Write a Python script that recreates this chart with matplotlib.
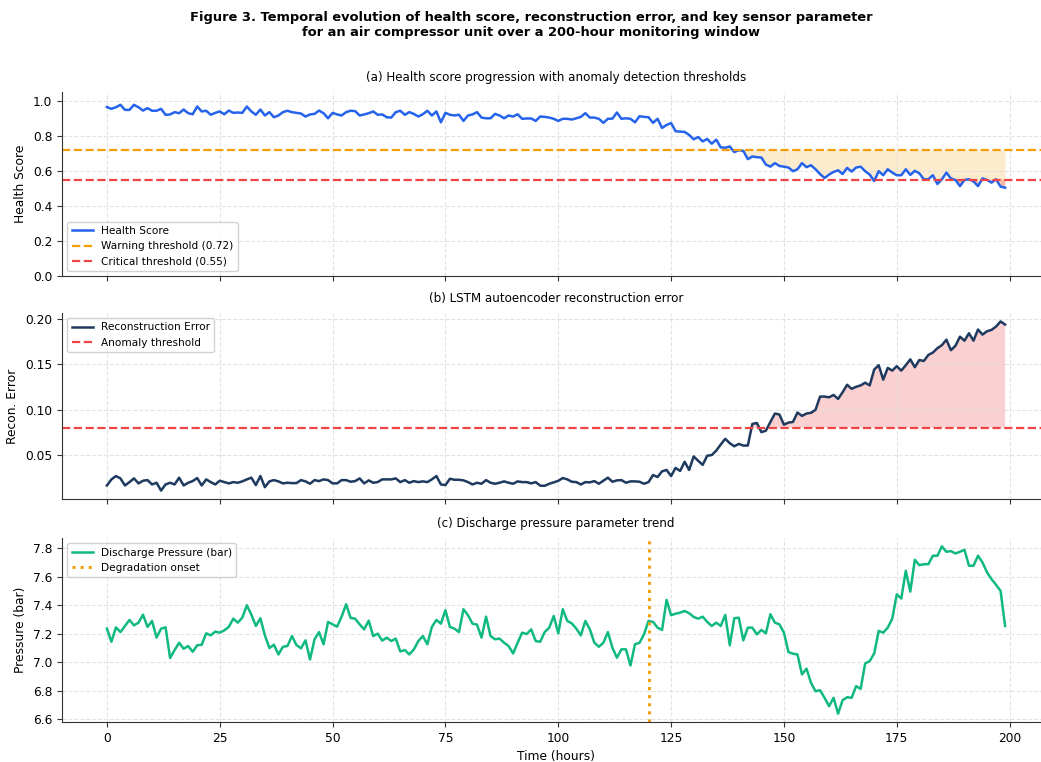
import numpy as np
import matplotlib
matplotlib.use("Agg")
import matplotlib.pyplot as plt

hours = np.arange(200)

health_score = [
    0.964, 0.954, 0.963, 0.977, 0.948, 0.948, 0.977, 0.963, 0.944, 0.958,
    0.943, 0.943, 0.954, 0.920, 0.922, 0.935, 0.929, 0.950, 0.929, 0.923,
    0.967, 0.939, 0.943, 0.920, 0.931, 0.939, 0.923, 0.944, 0.931, 0.933,
    0.931, 0.967, 0.939, 0.920, 0.950, 0.916, 0.935, 0.906, 0.916, 0.935,
    0.943, 0.935, 0.931, 0.927, 0.910, 0.922, 0.925, 0.944, 0.929, 0.900,
    0.931, 0.922, 0.916, 0.935, 0.943, 0.941, 0.916, 0.922, 0.929, 0.939,
    0.920, 0.922, 0.906, 0.904, 0.935, 0.943, 0.920, 0.935, 0.925, 0.910,
    0.923, 0.943, 0.916, 0.939, 0.877, 0.931, 0.920, 0.916, 0.920, 0.885,
    0.916, 0.922, 0.935, 0.904, 0.900, 0.900, 0.925, 0.916, 0.900, 0.916,
    0.910, 0.923, 0.897, 0.899, 0.899, 0.885, 0.910, 0.908, 0.904, 0.897,
    0.885, 0.897, 0.897, 0.893, 0.900, 0.908, 0.929, 0.904, 0.904, 0.897,
    0.874, 0.897, 0.898, 0.933, 0.897, 0.900, 0.897, 0.877, 0.912, 0.908,
    0.906, 0.874, 0.897, 0.845, 0.862, 0.873, 0.826, 0.824, 0.822, 0.805,
    0.780, 0.793, 0.768, 0.782, 0.755, 0.778, 0.734, 0.732, 0.739, 0.707,
    0.718, 0.714, 0.667, 0.682, 0.678, 0.676, 0.636, 0.624, 0.644, 0.628,
    0.624, 0.619, 0.598, 0.609, 0.644, 0.621, 0.632, 0.609, 0.582, 0.559,
    0.579, 0.594, 0.603, 0.582, 0.617, 0.596, 0.619, 0.624, 0.598, 0.579,
    0.542, 0.598, 0.575, 0.609, 0.590, 0.575, 0.575, 0.609, 0.577, 0.600,
    0.586, 0.552, 0.552, 0.575, 0.525, 0.552, 0.590, 0.556, 0.548, 0.513,
    0.548, 0.552, 0.540, 0.513, 0.557, 0.548, 0.533, 0.552, 0.510, 0.504,
]

recon_error = [
    0.0164, 0.0231, 0.0268, 0.0242, 0.0164, 0.0201, 0.0242, 0.0187, 0.0216, 0.0223,
    0.0175, 0.0194, 0.0108, 0.0175, 0.0194, 0.0175, 0.0250, 0.0164, 0.0194, 0.0212,
    0.0246, 0.0164, 0.0231, 0.0201, 0.0175, 0.0216, 0.0201, 0.0187, 0.0201, 0.0194,
    0.0209, 0.0231, 0.0250, 0.0168, 0.0268, 0.0145, 0.0209, 0.0223, 0.0209, 0.0187,
    0.0194, 0.0190, 0.0190, 0.0223, 0.0209, 0.0183, 0.0223, 0.0212, 0.0231, 0.0223,
    0.0187, 0.0187, 0.0223, 0.0223, 0.0205, 0.0212, 0.0242, 0.0187, 0.0220, 0.0194,
    0.0201, 0.0231, 0.0231, 0.0231, 0.0242, 0.0201, 0.0223, 0.0194, 0.0212, 0.0201,
    0.0209, 0.0201, 0.0231, 0.0268, 0.0175, 0.0168, 0.0238, 0.0227, 0.0227, 0.0220,
    0.0201, 0.0175, 0.0194, 0.0183, 0.0223, 0.0194, 0.0183, 0.0194, 0.0209, 0.0194,
    0.0183, 0.0209, 0.0201, 0.0201, 0.0187, 0.0201, 0.0162, 0.0160, 0.0183, 0.0198,
    0.0215, 0.0246, 0.0231, 0.0205, 0.0201, 0.0175, 0.0201, 0.0198, 0.0212, 0.0183,
    0.0216, 0.0250, 0.0205, 0.0220, 0.0223, 0.0194, 0.0209, 0.0209, 0.0205, 0.0183,
    0.0201, 0.0279, 0.0257, 0.0320, 0.0335, 0.0268, 0.0358, 0.0324, 0.0425, 0.0335,
    0.0484, 0.0436, 0.0391, 0.0492, 0.0499, 0.0548, 0.0615, 0.0678, 0.0630, 0.0596,
    0.0622, 0.0604, 0.0604, 0.0842, 0.0853, 0.0752, 0.0767, 0.0864, 0.0957, 0.0946,
    0.0834, 0.0857, 0.0864, 0.0968, 0.0931, 0.0957, 0.0965, 0.0998, 0.1144, 0.1144,
    0.1136, 0.1162, 0.1118, 0.1192, 0.1274, 0.1229, 0.1252, 0.1267, 0.1297, 0.1267,
    0.1442, 0.1490, 0.1330, 0.1460, 0.1430, 0.1479, 0.1430, 0.1490, 0.1554, 0.1468,
    0.1547, 0.1536, 0.1603, 0.1629, 0.1677, 0.1711, 0.1771, 0.1655, 0.1704, 0.1804,
    0.1760, 0.1842, 0.1760, 0.1883, 0.1827, 0.1864, 0.1879, 0.1916, 0.1972, 0.1938,
]

pressure = [
    7.235, 7.143, 7.244, 7.211, 7.254, 7.296, 7.258, 7.277, 7.333, 7.247,
    7.289, 7.172, 7.235, 7.244, 7.029, 7.085, 7.136, 7.094, 7.113, 7.073,
    7.118, 7.122, 7.202, 7.188, 7.214, 7.207, 7.223, 7.247, 7.305, 7.277,
    7.312, 7.399, 7.333, 7.254, 7.308, 7.188, 7.099, 7.122, 7.054, 7.108,
    7.113, 7.183, 7.120, 7.097, 7.153, 7.019, 7.160, 7.211, 7.125, 7.282,
    7.265, 7.249, 7.319, 7.406, 7.310, 7.305, 7.265, 7.230, 7.291, 7.183,
    7.200, 7.151, 7.172, 7.148, 7.165, 7.075, 7.085, 7.054, 7.089, 7.148,
    7.183, 7.125, 7.247, 7.296, 7.270, 7.364, 7.247, 7.235, 7.211, 7.371,
    7.329, 7.270, 7.263, 7.172, 7.319, 7.183, 7.160, 7.165, 7.136, 7.113,
    7.061, 7.136, 7.207, 7.197, 7.230, 7.148, 7.143, 7.211, 7.242, 7.324,
    7.202, 7.371, 7.289, 7.272, 7.235, 7.188, 7.289, 7.230, 7.136, 7.108,
    7.136, 7.211, 7.101, 7.031, 7.090, 7.090, 6.977, 7.125, 7.136, 7.195,
    7.289, 7.282, 7.242, 7.226, 7.437, 7.329, 7.340, 7.347, 7.359, 7.343,
    7.317, 7.305, 7.319, 7.282, 7.254, 7.277, 7.254, 7.331, 7.118, 7.308,
    7.312, 7.153, 7.242, 7.242, 7.195, 7.226, 7.202, 7.336, 7.277, 7.265,
    7.207, 7.071, 7.059, 7.054, 6.914, 6.954, 6.855, 6.796, 6.803, 6.750,
    6.691, 6.750, 6.639, 6.733, 6.754, 6.750, 6.832, 6.813, 6.991, 7.007,
    7.061, 7.219, 7.207, 7.242, 7.305, 7.476, 7.446, 7.641, 7.495, 7.718,
    7.680, 7.687, 7.687, 7.746, 7.746, 7.812, 7.774, 7.779, 7.762, 7.774,
    7.788, 7.676, 7.676, 7.746, 7.699, 7.629, 7.582, 7.542, 7.500, 7.254,
]

warning_thr = 0.72
critical_thr = 0.55
anomaly_thr = 0.08
onset_hour = 120

health_score = np.array(health_score)
recon_error = np.array(recon_error)
pressure = np.array(pressure)

plt.rcParams["font.family"] = "DejaVu Sans"

fig = plt.figure(figsize=(10.41, 7.62), dpi=100)
# axes run a little past the right edge, as in the reference crop
ax_w = 988 / 1041
ax1 = fig.add_axes([62/1041, 1 - 276/762, ax_w, 184/762])
ax2 = fig.add_axes([62/1041, 1 - 499/762, ax_w, 186/762], sharex=ax1)
ax3 = fig.add_axes([62/1041, 1 - 722/762, ax_w, 184/762], sharex=ax1)

blue = "#2563eb"
orange = "#f59e0b"
red = "#ef4444"
navy = "#1e3a5f"
green = "#10b981"

# (a) health score
ax1.plot(hours, health_score, color=blue, lw=1.8, label="Health Score")
ax1.axhline(warning_thr, color=orange, ls="--", lw=1.6, label="Warning threshold (0.72)")
ax1.axhline(critical_thr, color=red, ls="--", lw=1.6, label="Critical threshold (0.55)")
ax1.fill_between(hours, health_score, warning_thr, where=health_score < warning_thr,
                 color=orange, alpha=0.2, lw=0)
ax1.fill_between(hours, health_score, critical_thr, where=health_score < critical_thr,
                 color=red, alpha=0.3, lw=0)
ax1.set_ylim(0, 1.05)
ax1.set_ylabel("Health Score", fontsize=8.8)
ax1.set_title("(a) Health score progression with anomaly detection thresholds", fontsize=8.6, pad=8)
ax1.legend(loc="lower left", fontsize=7.6, framealpha=0.9)

# (b) reconstruction error
ax2.plot(hours, recon_error, color=navy, lw=1.8, label="Reconstruction Error")
ax2.axhline(anomaly_thr, color=red, ls="--", lw=1.6, label="Anomaly threshold")
ax2.fill_between(hours, recon_error, anomaly_thr, where=recon_error > anomaly_thr,
                 color=red, alpha=0.25, lw=0)
ax2.set_yticks([0.05, 0.10, 0.15, 0.20])
ax2.set_ylabel("Recon. Error", fontsize=8.8)
ax2.set_title("(b) LSTM autoencoder reconstruction error", fontsize=8.6, pad=8)
ax2.legend(loc="upper left", fontsize=7.6, framealpha=0.9)

# (c) discharge pressure
ax3.plot(hours, pressure, color=green, lw=1.8, label="Discharge Pressure (bar)")
ax3.axvline(onset_hour, color=orange, ls=":", lw=2.2, label="Degradation onset")
ax3.set_yticks([6.6, 6.8, 7.0, 7.2, 7.4, 7.6, 7.8])
ax3.set_yticklabels(["6.6", "6.8", "7.0", "7.2", "7.4", "7.6", "7.8"])
ax3.set_ylabel("Pressure (bar)", fontsize=8.8)
ax3.set_xlabel("Time (hours)", fontsize=8.8)
ax3.set_title("(c) Discharge pressure parameter trend", fontsize=8.6, pad=8)
ax3.legend(loc="upper left", fontsize=7.6, framealpha=0.9)

ax1.set_xticks([0, 25, 50, 75, 100, 125, 150, 175, 200])

for ax in (ax1, ax2, ax3):
    ax.grid(True, ls="--", color="#dddddd", lw=0.8, alpha=0.8)
    ax.spines["top"].set_visible(False)
    ax.spines["right"].set_visible(False)
    ax.spines["left"].set_color("#333333")
    ax.spines["bottom"].set_color("#333333")
    ax.tick_params(labelsize=8.8, color="#333333")
for ax in (ax1, ax2):
    ax.tick_params(labelbottom=False)

fig.suptitle("Figure 3. Temporal evolution of health score, reconstruction error, and key sensor parameter\n"
             "for an air compressor unit over a 200-hour monitoring window",
             fontsize=9.4, fontweight="bold", x=531/1041, y=0.985)

fig.savefig("out.png", dpi=100)
